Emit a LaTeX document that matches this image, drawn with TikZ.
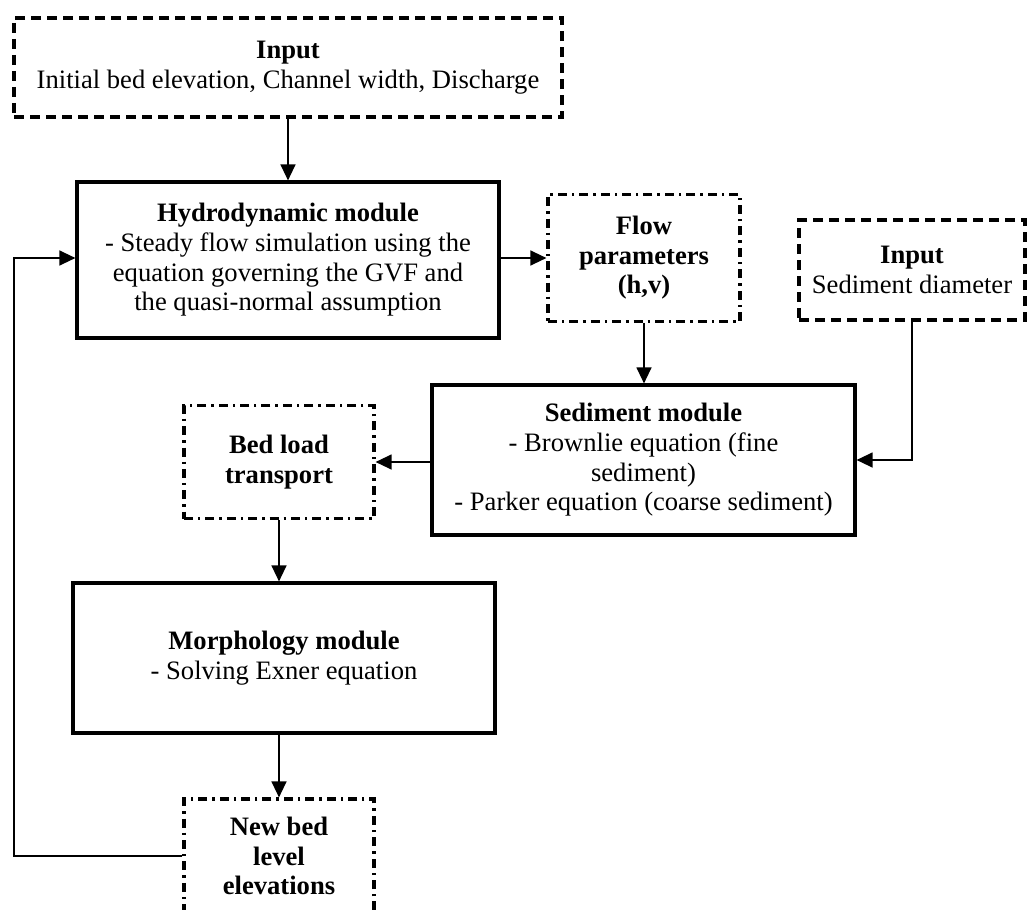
\documentclass[tikz,border=0pt]{standalone}
\usepackage{fontspec}
\setmainfont{Liberation Serif}
\usetikzlibrary{arrows.meta}

\begin{document}
\begin{tikzpicture}[x=0.5pt, y=-0.5pt,
    every node/.style={align=center, inner sep=2pt, font=\fontsize{13.3}{14.8}\selectfont},
    module/.style={draw, line width=1.6pt},
    inbox/.style={draw, line width=1.6pt, dash pattern=on 5pt off 3pt},
    databox/.style={draw, line width=1.6pt, dash pattern=on 4.5pt off 2.5pt on 1.2pt off 2.5pt},
    link/.style={-{Triangle[length=8pt, width=7.5pt]}, line width=0.65pt}]
    \useasboundingbox (0,0) rectangle (1035,910);
    \node[inbox, minimum width=274pt, minimum height=49.5pt] (inA) at (288,67.5)
      {\textbf{Input}\\Initial bed elevation, Channel width, Discharge};
    \node[module, minimum width=211pt, minimum height=78pt] (hydro) at (288,260)
      {\textbf{Hydrodynamic module}\\- Steady flow simulation using the\\equation governing the GVF and\\the quasi-normal assumption};
    \node[databox, minimum width=96pt, minimum height=63.5pt] (flow) at (644,258)
      {\textbf{Flow}\\\textbf{parameters}\\\textbf{(h,v)}};
    \node[inbox, minimum width=113pt, minimum height=50pt] (inB) at (912,270)
      {\textbf{Input}\\Sediment diameter};
    \node[module, minimum width=211.5pt, minimum height=75pt] (sed) at (643.5,460)
      {\textbf{Sediment module}\\- Brownlie equation (fine\\sediment)\\- Parker equation (coarse sediment)};
    \node[databox, minimum width=95pt, minimum height=56.5pt] (bed) at (279,462)
      {\textbf{Bed load}\\\textbf{transport}};
    \node[module, minimum width=211pt, minimum height=75pt] (morph) at (284,658)
      {\textbf{Morphology module}\\- Solving Exner equation};
    \node[databox, minimum width=95pt, minimum height=57pt] (newbed) at (279,856)
      {\textbf{New bed}\\\textbf{level}\\\textbf{elevations}};
    \coordinate (loop) at (14,856);

    \draw[link] (inA) -- (hydro);
    \draw[link] (hydro.east |- flow.west) -- (flow.west);
    \draw[link] (flow.south) -- (flow.south |- sed.north);
    \draw[link] (inB.south) |- (sed.east);
    \draw[link] (sed.west |- bed.east) -- (bed.east);
    \draw[link] (bed.south) -- (bed.south |- morph.north);
    \draw[link] (newbed.north |- morph.south) -- (newbed.north);
    \draw[link] (newbed.west) -- (loop) |- (hydro.west |- flow.west);
  \end{tikzpicture}
\end{document}
